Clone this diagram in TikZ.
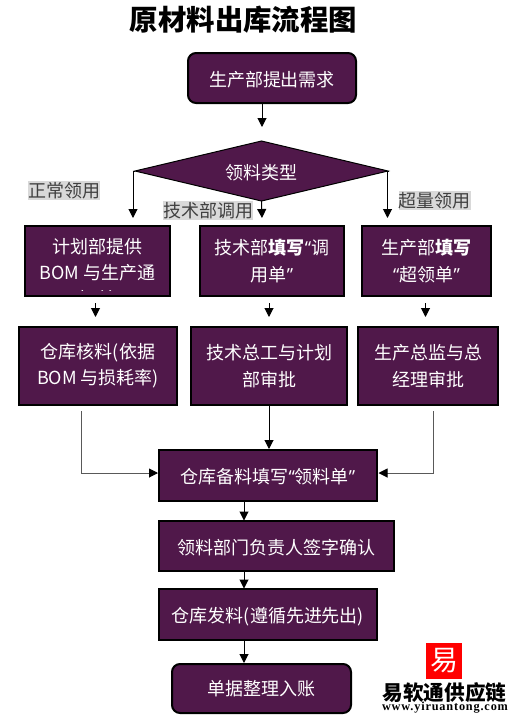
\documentclass[tikz,border=0pt]{standalone}
\usepackage{fontspec}
\usepackage{xcolor}
\usepackage{tikz}
\usetikzlibrary{arrows.meta,shapes.geometric}
\setmainfont{Noto Sans CJK SC}
\newfontfamily\quotefont{Open Sans}
\newfontfamily\webfont[LetterSpace=6.8]{Liberation Serif}
\definecolor{boxpurple}{HTML}{50184A}
\definecolor{tagback}{HTML}{D9D9D9}
\def\pxu{0.75pt}
\newcommand{\lqm}{{\quotefont “}}
\newcommand{\rqm}{{\quotefont ”}}
\newcommand{\lowtext}[1]{\raisebox{0pt}[12pt][0pt]{#1}}
\tikzset{
  procbox/.style={draw=black, line width=1.5pt, fill=boxpurple, text=white, align=center, inner sep=0pt, outer sep=0pt,
    font=\fontsize{13.5}{19.7}\selectfont},
  endbox/.style={procbox, rounded corners=6pt},
  typetag/.style={fill=tagback, text=black!75, inner xsep=0pt, inner ysep=1pt, font=\fontsize{13.5}{15}\selectfont},
  flow/.style={draw=black, line width=0.75pt, -{Triangle[length=6.75pt,width=6.75pt]}},
  sideflow/.style={draw=black!65, line width=0.75pt, -{Triangle[length=6.75pt,width=6.75pt,color=black]}}
}
\begin{document}
\begin{tikzpicture}[x=0.75pt,y=-0.75pt]
\useasboundingbox (0,0) rectangle (513,719);
\node[font=\fontsize{21.3}{24}\selectfont\bfseries] (title) at (243.5,20) {原材料出库流程图};

\node[endbox, minimum width=168*\pxu, minimum height=50*\pxu] (need) at (272,78) {\lowtext{生产部提出需求}};
\node[diamond, draw=black, line width=0.75pt, fill=boxpurple, text=white, inner sep=0pt, outer sep=0pt, aspect=4.2,
  minimum width=253*\pxu, minimum height=60*\pxu, font=\fontsize{13.5}{15}\selectfont] (kind) at (261.5,171) {\raisebox{0pt}[13pt][0pt]{领料类型}};

\node[typetag] (tagnorm) at (64,190.5) {正常领用};
\node[typetag] (tagtech) at (208,210.5) {技术部调用};
\node[typetag] (tagover) at (434.5,200.5) {超量领用};

% first row
\node[procbox, minimum width=145*\pxu, minimum height=70*\pxu] (plan) at (97.5,261) {};
\begin{scope}
  \clip (26,227) rectangle (169,290.5);
  \node[text=white, align=center, inner sep=0pt, font=\fontsize{13.5}{19.7}\selectfont] (plantext) at (97.5,272.5) {计划部提供\\BOM 与生产通\\知单};
\end{scope}
\node[procbox, minimum width=144*\pxu, minimum height=70*\pxu] (tech) at (272,261) {技术部\textbf{填写}\lqm 调\\用单\rqm};
\node[procbox, minimum width=129*\pxu, minimum height=70*\pxu] (prod) at (426.5,261) {生产部\textbf{填写}\\\lqm 超领单\rqm};

% second row
\node[procbox, minimum width=158*\pxu, minimum height=78*\pxu] (check) at (98,366) {仓库核料(依据\\BOM 与损耗率)};
\node[procbox, minimum width=156*\pxu, minimum height=78*\pxu] (chief) at (269,366) {技术总工与计划\\部审批};
\node[procbox, minimum width=140*\pxu, minimum height=78*\pxu] (boss) at (428,366) {生产总监与总\\经理审批};

% lower column
\node[procbox, minimum width=218*\pxu, minimum height=51*\pxu] (ware) at (268,475.5) {\lowtext{仓库备料填写\lqm 领料单\rqm}};
\node[procbox, minimum width=235*\pxu, minimum height=50*\pxu] (sign) at (276.5,546) {\lowtext{领料部门负责人签字确认}};
\node[procbox, minimum width=218*\pxu, minimum height=51*\pxu] (issue) at (268,614.5) {\lowtext{仓库发料(遵循先进先出)}};
\node[endbox, minimum width=179*\pxu, minimum height=49*\pxu] (book) at (261.5,688.5) {单据整理入账};

% connectors
\coordinate (leftin) at (133,218);
\coordinate (midin) at (262,218);
\coordinate (rightin) at (387.5,218);
\coordinate (leftout) at (81.5,411);
\coordinate (rightout) at (433,411);
\coordinate (wareleft) at (158,473);
\coordinate (wareright) at (378.5,473);
\draw[flow] (262,0 |- need.south) -- (262,127);
\draw[flow] (kind.west) -| (leftin);
\draw[flow] (kind.south) -- (midin);
\draw[flow] (kind.east) -| (rightin);
\foreach \a/\b/\x in {plan/check/95.5,tech/chief/269,prod/boss/425.5}
  \draw[flow] (\x,0 |- \a.south) ++(0,7) -- (\x,317);
\draw[flow] (chief.south) -- (269,449);
\draw[sideflow] (leftout) |- (wareleft);
\draw[sideflow] (rightout) |- (wareright);
\foreach \a/\b/\y in {ware/sign/520.5,sign/issue/588.5,issue/book/663}
  \draw[flow] (244,0 |- \a.south) -- (244,\y);

% logo
\node[fill=red, text=white, minimum size=36*\pxu, inner sep=0pt, font=\fontsize{21}{22}\selectfont] (logo) at (444,661) {易};
\node[inner sep=0pt, font=\fontsize{15.5}{17}\selectfont\bfseries] (brand) at (444.5,692.5) {易软通供应链};
\node[inner sep=0pt, font=\webfont\fontsize{9.2}{9.5}\selectfont\bfseries] (site) at (445,708) {www.yiruantong.com};
\end{tikzpicture}
\end{document}
